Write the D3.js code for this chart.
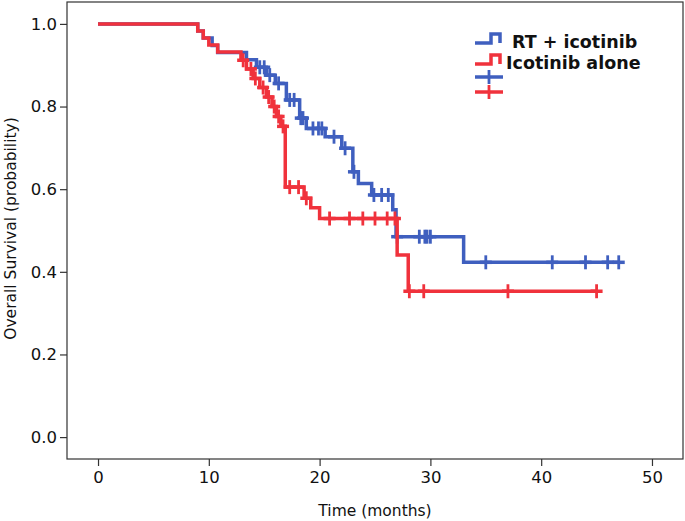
<!DOCTYPE html>
<html>
<head>
<meta charset="utf-8">
<script src="https://cdn.jsdelivr.net/npm/d3@7"></script>
<style>
  html, body { margin: 0; padding: 0; background: #fff; }
  svg { display: block; }
</style>
</head>
<body>
<svg id="chart" width="685" height="521"></svg>
<script>
// ---- Data ----
const seriesNames = ["RT + icotinib", "Icotinib alone"];

// RT + icotinib: step times and survival after each step
const blueTimes = [0, 9.0, 9.5, 10.3, 10.8, 13.4, 14.3, 15.2, 16.0, 17.0, 18.2, 18.8, 20.5, 22.0, 23.0, 23.5, 24.7, 26.6, 26.9, 33.0];
const blueSurv  = [1.0, 0.983, 0.966, 0.948, 0.931, 0.913, 0.895, 0.876, 0.856, 0.816, 0.772, 0.747, 0.727, 0.699, 0.642, 0.614, 0.586, 0.55, 0.485, 0.423];
const blueCensor = [14.6, 15.0, 15.5, 16.3, 17.3, 17.7, 18.3, 18.5, 19.4, 19.9, 20.2, 21.3, 22.3, 23.1, 24.9, 25.6, 26.2, 27.0, 29.0, 29.5, 29.7, 30.0, 35.0, 41.0, 44.0, 46.0, 47.0];
const blueEnd = 47.0;

// Icotinib alone
const redTimes = [0, 9.0, 9.5, 10.0, 10.8, 12.9, 13.4, 14.0, 14.6, 15.2, 15.7, 16.1, 16.5, 16.9, 18.6, 19.2, 20.0, 27.0, 28.0];
const redSurv  = [1.0, 0.983, 0.966, 0.949, 0.932, 0.912, 0.891, 0.868, 0.846, 0.823, 0.80, 0.776, 0.752, 0.605, 0.578, 0.555, 0.529, 0.441, 0.353];
const redCensor = [13.1, 13.8, 14.2, 14.9, 15.4, 15.9, 16.3, 16.7, 17.3, 18.1, 18.8, 20.9, 22.7, 23.9, 25.0, 26.1, 26.8, 28.1, 29.4, 37.0, 45.0];
const redEnd = 45.0;

const xTicks = [0, 10, 20, 30, 40, 50];
const yTicks = [0.0, 0.2, 0.4, 0.6, 0.8, 1.0];
const xTitle = "Time (months)";
const yTitle = "Overall Survival (probability)";

// ---- Styles ----
const BLUE = "#3f5fbf";
const RED = "#f0323c";
const FONT = "'DejaVu Sans', sans-serif";

const svg = d3.select("#chart");
const x = d3.scaleLinear().domain([-2.8, 52.8]).range([67, 683]);
const y = d3.scaleLinear().domain([-0.053, 1.053]).range([459, 2]);

// Frame
svg.append("rect")
  .attr("x", x.range()[0]).attr("y", y.range()[1])
  .attr("width", x.range()[1] - x.range()[0])
  .attr("height", y.range()[0] - y.range()[1])
  .attr("fill", "none").attr("stroke", "#333").attr("stroke-width", 1.2);

// Axes
const xAxis = svg.append("g")
  .attr("transform", `translate(0,${y.range()[0]})`)
  .call(d3.axisBottom(x).tickValues(xTicks).tickFormat(d3.format("d")).tickSize(7).tickPadding(5));
const yAxis = svg.append("g")
  .attr("transform", `translate(${x.range()[0]},0)`)
  .call(d3.axisLeft(y).tickValues(yTicks).tickFormat(d3.format(".1f")).tickSize(7).tickPadding(3));
[xAxis, yAxis].forEach(g => {
  g.select(".domain").remove();
  g.selectAll(".tick line").attr("stroke", "#333").attr("stroke-width", 1.2);
  g.selectAll(".tick text").attr("fill", "#111").style("font-family", FONT).style("font-size", "16.5px");
});

// Axis titles
svg.append("text")
  .attr("x", x(25)).attr("y", 516)
  .attr("text-anchor", "middle")
  .style("font-family", FONT).style("font-size", "15.5px").attr("fill", "#111")
  .text(xTitle);
svg.append("text")
  .attr("transform", `translate(16,${y(0.5) - 2}) rotate(-90)`)
  .attr("text-anchor", "middle")
  .style("font-family", FONT).style("font-size", "15.5px").attr("fill", "#111")
  .text(yTitle);

// KM curves
function stepPoints(times, surv, end) {
  const pts = times.map((t, i) => [t, surv[i]]);
  pts.push([end, surv[surv.length - 1]]);
  return pts;
}
function survAt(times, surv, t) {
  let s = surv[0];
  for (let i = 0; i < times.length; i++) if (times[i] <= t) s = surv[i];
  return s;
}
const line = d3.line().x(d => x(d[0])).y(d => y(d[1])).curve(d3.curveStepAfter);

const series = [
  { name: seriesNames[0], times: blueTimes, surv: blueSurv, censor: blueCensor, end: blueEnd, color: BLUE },
  { name: seriesNames[1], times: redTimes, surv: redSurv, censor: redCensor, end: redEnd, color: RED }
];

series.forEach(s => {
  const g = svg.append("g");
  g.append("path")
    .attr("d", line(stepPoints(s.times, s.surv, s.end)))
    .attr("fill", "none").attr("stroke", s.color).attr("stroke-width", 3.5)
    .attr("stroke-linejoin", "miter");
  g.selectAll("g.cens").data(s.censor).join("g")
    .attr("transform", d => `translate(${x(d)},${y(survAt(s.times, s.surv, d))})`)
    .each(function () {
      const c = d3.select(this);
      c.append("line").attr("x1", 0).attr("x2", 0).attr("y1", -7).attr("y2", 7)
        .attr("stroke", s.color).attr("stroke-width", 2.8);
      c.append("line").attr("x1", -6).attr("x2", 6).attr("y1", 0).attr("y2", 0)
        .attr("stroke", s.color).attr("stroke-width", 3.5);
    });
});

// Legend
const leg = svg.append("g");
series.forEach((s, i) => {
  const yl = 43 + i * 21;
  leg.append("path")
    .attr("d", `M475,${yl} H491 V${yl - 9} H500 V${yl}`)
    .attr("fill", "none").attr("stroke", s.color).attr("stroke-width", 3.5);
  leg.append("text")
    .attr("x", i === 0 ? 512 : 506).attr("y", yl + 5)
    .style("font-family", FONT).style("font-size", "17.5px").style("font-weight", "bold")
    .attr("fill", "#111")
    .text(s.name);
  const yc = 77 + i * 15;
  leg.append("line").attr("x1", 475).attr("x2", 503).attr("y1", yc).attr("y2", yc)
    .attr("stroke", s.color).attr("stroke-width", 3.5);
  leg.append("line").attr("x1", 489).attr("x2", 489).attr("y1", yc - 7).attr("y2", yc + 7)
    .attr("stroke", s.color).attr("stroke-width", 2.8);
});
</script>
</body>
</html>
